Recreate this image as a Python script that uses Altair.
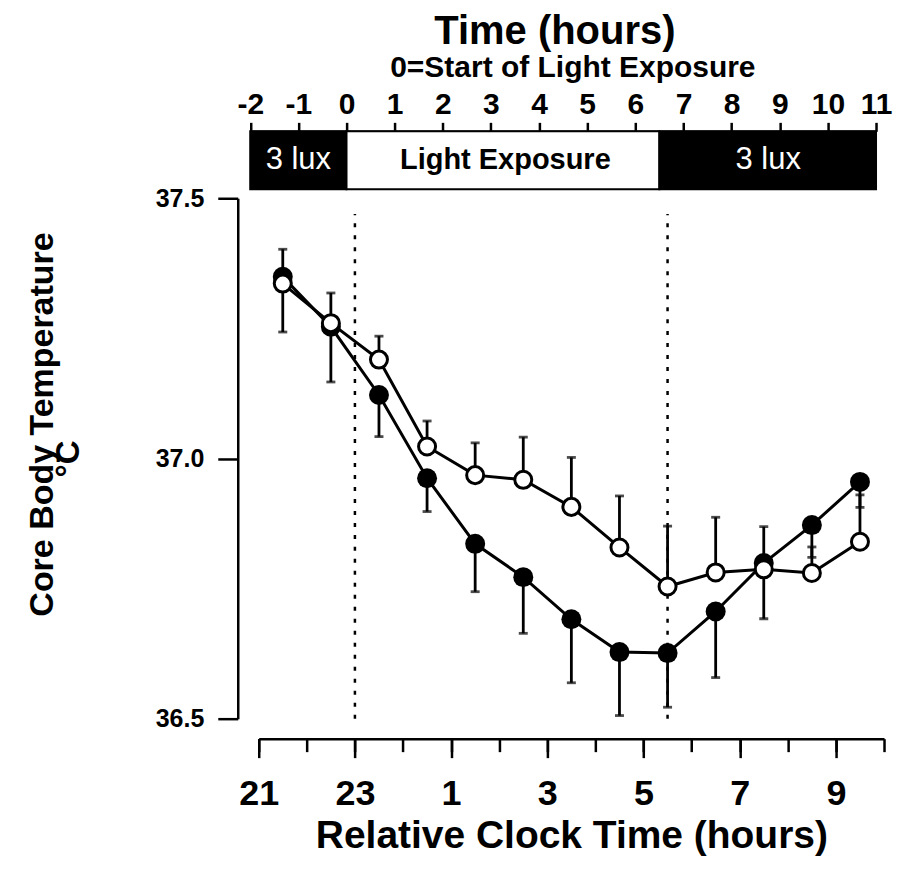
import altair as alt
import pandas as pd

# ---- data ----
clock_hours = [21.5, 22.5, 23.5, 24.5, 25.5, 26.5, 27.5, 28.5, 29.5, 30.5, 31.5, 32.5, 33.5]
filled_mean = [37.349, 37.253, 37.122, 36.962, 36.836, 36.772, 36.691, 36.628, 36.626, 36.706, 36.799, 36.872, 36.955]
filled_low = [37.243, 37.147, 37.042, 36.898, 36.744, 36.664, 36.569, 36.506, 36.522, 36.579, 36.692, 36.810, 36.906]
open_mean = [37.336, 37.260, 37.190, 37.023, 36.968, 36.959, 36.907, 36.829, 36.754, 36.781, 36.787, 36.780, 36.840]
open_high = [37.402, 37.318, 37.235, 37.072, 37.030, 37.041, 37.002, 36.928, 36.870, 36.887, 36.869, 36.830, 36.930]

light_bounds_clock = [23.0, 29.5]
dotted_bottom = [36.5, 36.5]
dotted_top = [37.47, 37.47]

bottom_ticks_all = [21, 22, 23, 24, 25, 26, 27, 28, 29, 30, 31, 32, 33, 34]
bottom_ticks_major = [21, 23, 25, 27, 29, 31, 33]
y_ticks = [36.5, 37.0, 37.5]
top_ticks = [-2, -1, 0, 1, 2, 3, 4, 5, 6, 7, 8, 9, 10, 11]

seg_start = [-2.0, 0.0, 6.5]
seg_end = [0.0, 6.5, 11.0]
seg_fill = ["black", "white", "black"]
dim_label_text = ["3 lux", "3 lux"]
dim_label_pos = [-1.0, 8.76]
light_label_text = ["Light Exposure"]
light_label_pos = [3.3]

FONT = "Liberation Sans"
W = 635
H = 521

df = pd.DataFrame({"x": clock_hours, "f_mean": filled_mean, "f_low": filled_low,
                   "o_mean": open_mean, "o_high": open_high})
dots = pd.DataFrame({"x": light_bounds_clock, "y1": dotted_bottom, "y2": dotted_top})
segs = pd.DataFrame({"s": seg_start, "e": seg_end, "fill": seg_fill})
dim_lab = pd.DataFrame({"x": dim_label_pos, "t": dim_label_text})
light_lab = pd.DataFrame({"x": light_label_pos, "t": light_label_text})

xs = alt.Scale(domain=[21, 34], range=[9, W], nice=False, zero=False)
ys = alt.Scale(domain=[36.5, 37.5], nice=False, zero=False)

minor_axis = alt.Axis(orient="bottom", values=bottom_ticks_all, tickSize=13, labels=False,
                      domain=True, title=None, offset=20, grid=False)
major_axis = alt.Axis(orient="bottom", values=bottom_ticks_major, tickSize=19, domain=False,
                      labelExpr="datum.value > 24 ? datum.value - 24 : datum.value",
                      labelFontSize=36, labelPadding=19, labelFlush=False,
                      title="Relative Clock Time (hours)",
                      titleFontSize=39, titlePadding=5, offset=20, grid=False)
y_axis_a = alt.Axis(values=y_ticks, format=".1f", tickSize=20, labelPadding=14, labelFontSize=25,
                    title="Core Body Temperature", titleFontSize=34, titlePadding=96,
                    titleY=226, offset=12, grid=False)
y_axis_b = alt.Axis(orient="left", values=y_ticks, labels=False, ticks=False, domain=False,
                    title="°C", titleFontSize=33, titlePadding=152, offset=12, grid=False)

base = alt.Chart(df)

dotted = alt.Chart(dots).mark_rule(color="black", strokeWidth=2.5, strokeDash=[4, 8]).encode(
    x=alt.X("x:Q", scale=xs, axis=minor_axis),
    y=alt.Y("y1:Q", scale=ys, axis=None),
    y2="y2:Q",
)
f_err = base.mark_rule(color="black", strokeWidth=2.8).encode(
    x=alt.X("x:Q", scale=xs, axis=None),
    y=alt.Y("f_mean:Q", scale=ys, axis=None),
    y2="f_low:Q",
)
f_cap = base.mark_tick(color="black", orient="horizontal", size=9, thickness=2.8).encode(
    x=alt.X("x:Q", scale=xs, axis=None),
    y=alt.Y("f_low:Q", scale=ys, axis=None),
)
f_line = base.mark_line(color="black", strokeWidth=3).encode(
    x=alt.X("x:Q", scale=xs, axis=major_axis),
    y=alt.Y("f_mean:Q", scale=ys, axis=y_axis_a),
)
f_pts = base.mark_circle(color="black", size=400, opacity=1).encode(
    x=alt.X("x:Q", scale=xs, axis=None),
    y=alt.Y("f_mean:Q", scale=ys, axis=None),
)
o_err = base.mark_rule(color="black", strokeWidth=2.8).encode(
    x=alt.X("x:Q", scale=xs, axis=None),
    y=alt.Y("o_mean:Q", scale=ys, axis=None),
    y2="o_high:Q",
)
o_cap = base.mark_tick(color="black", orient="horizontal", size=9, thickness=2.8).encode(
    x=alt.X("x:Q", scale=xs, axis=None),
    y=alt.Y("o_high:Q", scale=ys, axis=None),
)
o_line = base.mark_line(color="black", strokeWidth=3).encode(
    x=alt.X("x:Q", scale=xs, axis=None),
    y=alt.Y("o_mean:Q", scale=ys, axis=y_axis_b),
)
o_pts = base.mark_point(shape="circle", filled=True, fill="white", stroke="black",
                        strokeWidth=3, size=290, opacity=1).encode(
    x=alt.X("x:Q", scale=xs, axis=None),
    y=alt.Y("o_mean:Q", scale=ys, axis=None),
)

main = alt.layer(dotted, f_err, f_cap, f_line, f_pts, o_err, o_cap, o_line, o_pts).resolve_axis(
    x="independent", y="independent").properties(width=W, height=H)

txs = alt.Scale(domain=[-2, 11], range=[0.5, 627], nice=False, zero=False)
top_axis = alt.Axis(orient="top", values=top_ticks, tickSize=9, labelFontSize=30, labelPadding=3,
                    labelExpr="datum.value < 0 ? '-' + abs(datum.value) : '' + datum.value",
                    labelFlush=False, title="0=Start of Light Exposure", titleFontSize=30,
                    titlePadding=7, titleX=323, grid=False, labelOverlap=False)

rects = alt.Chart(segs).mark_rect(stroke="black", strokeWidth=2).encode(
    x=alt.X("s:Q", scale=txs, axis=top_axis),
    x2="e:Q",
    y=alt.value(0),
    y2=alt.value(58),
    fill=alt.Fill("fill:N", scale=None),
)
dim_texts = alt.Chart(dim_lab).mark_text(font=FONT, baseline="middle", align="center",
                                          color="white", fontSize=31, fontWeight="normal").encode(
    x=alt.X("x:Q", scale=txs, axis=None),
    y=alt.value(29),
    text="t:N",
)
light_texts = alt.Chart(light_lab).mark_text(font=FONT, baseline="middle", align="center",
                                              color="black", fontSize=29, fontWeight="bold").encode(
    x=alt.X("x:Q", scale=txs, axis=None),
    y=alt.value(29),
    text="t:N",
)
top = alt.layer(rects, dim_texts, light_texts).resolve_axis(x="independent").properties(
    width=W, height=58,
    title=alt.TitleParams("Time (hours)", fontSize=40, fontWeight="bold", font=FONT,
                          anchor="middle", offset=0, dx=-12, color="black"),
)

chart = alt.vconcat(top, main, spacing=9, bounds="flush").properties(
    padding={"left": 17, "top": 4, "right": 5, "bottom": 5}
).configure_view(stroke=None).configure_axis(
    labelFont=FONT, titleFont=FONT, labelFontWeight="bold", titleFontWeight="bold",
    labelColor="black", titleColor="black", domainColor="black", tickColor="black",
    domainWidth=2.5, tickWidth=2.5,
)

chart.save("out.html", embed_options={"renderer": "svg", "actions": False})
